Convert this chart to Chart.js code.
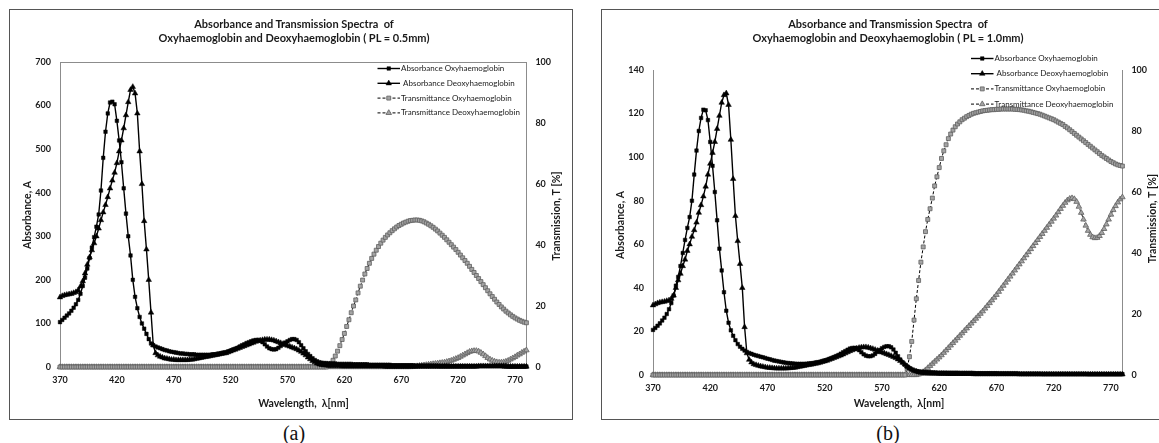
<!DOCTYPE html>
<html>
<head>
<meta charset="utf-8">
<script src="https://cdn.jsdelivr.net/npm/chart.js@4.4.1/dist/chart.umd.min.js"></script>
<style>
    html, body { margin: 0; padding: 0; background: #fff; }
    body { width: 1159px; height: 443px; position: relative; overflow: hidden; font-family: Lato, "Open Sans", sans-serif; }
    .panel { position: absolute; top: 9px; height: 411px; border: 1px solid #555; box-sizing: border-box; }
    #panel-a { left: 9px; width: 564px; }
    #panel-b { left: 601px; width: 600px; }
    .panel canvas { position: absolute; left: 0; top: 0; }
    .chart-title { position: absolute; top: 7px; width: 400px; text-align: center; font-weight: bold; font-size: 11px; line-height: 14.4px; color: #1a1a1a; white-space: pre; }
    .caption { position: absolute; top: 422px; width: 60px; text-align: center; font-family: "Liberation Serif", serif; font-size: 20px; line-height: 22px; color: #111; }
</style>
</head>
<body>
<div class="panel" id="panel-a">
    <canvas id="chart-a" width="562" height="409"></canvas>
    <div class="chart-title" style="left:84px">Absorbance and Transmission Spectra  of
Oxyhaemoglobin and Deoxyhaemoglobin ( PL = 0.5mm)</div>
</div>
<div class="panel" id="panel-b">
    <canvas id="chart-b" width="569" height="409"></canvas>
    <div class="chart-title" style="left:86px">Absorbance and Transmission Spectra  of
Oxyhaemoglobin and Deoxyhaemoglobin ( PL = 1.0mm)</div>
</div>
<div class="caption" style="left:264px">(a)</div>
<div class="caption" style="left:858px">(b)</div>

<script>
// wavelength grid, nm
const wavelength = [
    370,372,374,376,378,380,382,384,386,388,
    390,392,394,396,398,400,402,404,406,408,
    410,412,414,416,418,420,422,424,426,428,
    430,432,434,436,438,440,442,444,446,448,
    450,452,454,456,458,460,462,464,466,468,
    470,472,474,476,478,480,482,484,486,488,
    490,492,494,496,498,500,502,504,506,508,
    510,512,514,516,518,520,522,524,526,528,
    530,532,534,536,538,540,542,544,546,548,
    550,552,554,556,558,560,562,564,566,568,
    570,572,574,576,578,580,582,584,586,588,
    590,592,594,596,598,600,602,604,606,608,
    610,612,614,616,618,620,622,624,626,628,
    630,632,634,636,638,640,642,644,646,648,
    650,652,654,656,658,660,662,664,666,668,
    670,672,674,676,678,680,682,684,686,688,
    690,692,694,696,698,700,702,704,706,708,
    710,712,714,716,718,720,722,724,726,728,
    730,732,734,736,738,740,742,744,746,748,
    750,752,754,756,758,760,762,764,766,768,
    770,772,774,776,778,780
];

const xTicks = [370, 420, 470, 520, 570, 620, 670, 720, 770];
const absTicksA = [0, 100, 200, 300, 400, 500, 600, 700];
const absTicksB = [0, 20, 40, 60, 80, 100, 120, 140];
const transTicks = [0, 20, 40, 60, 80, 100];

// (a) PL = 0.5mm
const absOxyA = [
    103,108,113,118,123,129,136,144,154,168,
    186,205,226,250,274,298,322,350,405,480,
    540,582,607,609,603,565,520,470,410,352,
    300,256,200,161,135,115,100,88,76,64,
    54,50,47,45,43,41,39,38,36,35,
    34,33,32,31,31,30,30,29,29,29,
    28,28,28,28,28,28,28,29,29,30,
    31,32,33,34,36,38,40,42,44,47,
    50,52,55,57,59,61,62,62,60,57,
    52,47,43,41,40,41,44,48,52,56,
    59,62,64,64,62,57,50,43,36,30,
    25,20,16,13,11,10,9,9,8,8,
    8,8,7,7,7,7,7,7,7,6,
    6,6,6,6,6,6,5,5,5,5,
    5,5,5,5,5,5,4,4,4,4,
    4,4,4,4,4,4,3,3,3,3,
    3,3,3,3,3,3,3,2,2,2,
    2,2,2,2,2,2,2,2,2,2,
    2,2,2,2,2,2,2,2,2,2,
    2,2,2,2,2,1,1,1,1,1,
    1,1,1,1,1,1
];
const absDeoxyA = [
    160,163,165,166,167,168,170,172,176,185,
    197,215,235,252,268,284,300,318,337,355,
    372,390,410,428,446,468,495,520,548,578,
    608,636,643,628,582,495,420,335,270,200,
    125,50,32,27,24,22,20,19,18,17,
    17,16,16,16,16,16,16,17,17,18,
    19,20,21,22,23,24,25,26,27,28,
    29,30,31,32,34,36,38,40,42,44,
    46,48,50,52,54,56,58,60,61,62,
    63,63,63,62,61,59,57,55,53,51,
    49,47,45,43,41,38,35,31,27,22,
    18,14,11,8,6,5,4,4,3,3,
    3,3,3,3,2,2,2,2,2,2,
    2,2,2,2,2,2,2,2,2,2,
    2,2,2,1,1,1,1,1,1,1,
    1,1,1,1,1,1,1,1,1,1,
    1,1,1,1,1,1,1,1,1,1,
    1,1,1,1,1,1,1,1,1,1,
    1,1,1,1,2,2,2,2,2,2,
    2,2,2,2,2,2,2,1,1,1,
    1,1,1,1,1,1
];
const transOxyA = [
    0,0,0,0,0,0,0,0,0,0,
    0,0,0,0,0,0,0,0,0,0,
    0,0,0,0,0,0,0,0,0,0,
    0,0,0,0,0,0,0,0,0,0,
    0,0,0,0,0,0,0,0,0,0,
    0,0,0,0,0,0,0,0,0,0,
    0,0,0,0,0,0,0,0,0,0,
    0,0,0,0,0,0,0,0,0,0,
    0,0,0,0,0,0,0,0,0,0,
    0,0,0,0,0,0,0,0,0,0,
    0,0,0,0,0,0,0,0,0,0,
    0,0,0,0,0,0,0,0,0.5,1.2,
    2.2,3.6,5.2,7,9,11,13.3,15.5,17.8,20,
    22,24.3,26.5,28.5,30.5,32.3,34,35.6,37,38.3,
    39.5,40.6,41.6,42.5,43.3,44,44.7,45.3,45.9,46.4,
    46.8,47.2,47.5,47.8,48,48.1,48.2,48.2,48.1,47.9,
    47.6,47.2,46.8,46.3,45.8,45.2,44.6,43.9,43.2,42.5,
    41.7,40.9,40.1,39.3,38.5,37.6,36.7,35.8,34.9,34,
    33,32,31,30,29,28,27,26,25,24,
    23.1,22.2,21.3,20.5,19.7,19,18.3,17.7,17.1,16.6,
    16.1,15.7,15.3,15,14.7,14.5
];
const transDeoxyA = [
    0,0,0,0,0,0,0,0,0,0,
    0,0,0,0,0,0,0,0,0,0,
    0,0,0,0,0,0,0,0,0,0,
    0,0,0,0,0,0,0,0,0,0,
    0,0,0,0,0,0,0,0,0,0,
    0,0,0,0,0,0,0,0,0,0,
    0,0,0,0,0,0,0,0,0,0,
    0,0,0,0,0,0,0,0,0,0,
    0,0,0,0,0,0,0,0,0,0,
    0,0,0,0,0,0,0,0,0,0,
    0,0,0,0,0,0,0,0,0,0,
    0,0,0,0,0,0,0,0,0,0,
    0,0,0,0,0,0,0,0,0,0,
    0,0,0,0,0,0,0,0,0,0,
    0,0,0,0,0,0,0,0,0,0,
    0,0,0,0,0,0.1,0.2,0.3,0.4,0.5,
    0.6,0.7,0.8,0.9,1,1.1,1.2,1.3,1.4,1.5,
    1.7,1.9,2.1,2.4,2.7,3,3.4,3.8,4.2,4.6,
    5,5.2,5.3,5.3,5.1,4.7,4.2,3.6,3,2.5,
    2.1,1.8,1.6,1.5,1.5,1.6,1.8,2.1,2.5,2.9,
    3.3,3.8,4.2,4.7,5.1,5.5
];

// (b) PL = 1.0mm
const absOxyB = [
    20.7,21.6,22.6,23.7,25,26.3,28,30.2,33,36.5,
    41,45,50,56,62,67.5,72.5,80,92,103,
    112,118,121.8,121.5,117,107,96,84,71,58,
    48,38,29.5,24,20.5,18,16,14.2,13,12,
    11.2,10.6,10.1,9.7,9.3,9,8.7,8.4,8.1,7.8,
    7.5,7.2,6.9,6.6,6.4,6.2,6,5.8,5.6,5.5,
    5.4,5.3,5.2,5.1,5.1,5.1,5.1,5.2,5.3,5.4,
    5.5,5.7,5.9,6.1,6.4,6.7,7,7.4,7.8,8.2,
    8.7,9.2,9.8,10.4,11,11.6,12.1,12.4,12.5,12.2,
    11.4,10.4,9.5,8.9,8.6,8.6,9,9.7,10.6,11.5,
    12.3,12.9,13.2,13.2,12.7,11.7,10.2,8.6,7.1,5.8,
    4.7,3.8,3.1,2.5,2.1,1.8,1.6,1.5,1.4,1.3,
    1.2,1.2,1.1,1.1,1,1,1,1,1,1,
    1,1,1,1,0.9,0.9,0.9,0.9,0.9,0.9,
    0.9,0.8,0.8,0.8,0.8,0.8,0.8,0.8,0.8,0.8,
    0.8,0.7,0.7,0.7,0.7,0.7,0.7,0.7,0.7,0.7,
    0.6,0.6,0.6,0.6,0.6,0.6,0.6,0.6,0.6,0.6,
    0.5,0.5,0.5,0.5,0.5,0.5,0.5,0.5,0.5,0.5,
    0.5,0.5,0.5,0.5,0.5,0.5,0.5,0.5,0.5,0.5,
    0.4,0.4,0.4,0.4,0.4,0.4,0.4,0.4,0.4,0.4,
    0.4,0.4,0.4,0.4,0.4,0.4
];
const absDeoxyB = [
    32,32.5,33,33.3,33.5,33.7,34,34.3,35,36.5,
    40,43.5,46.5,50,53,57,60,63.5,66.5,70,
    74.5,78,82,86.5,92,97,102,107,113,119,
    125,128.5,129.3,124,108,90,73,61.5,51,40,
    22,10,7,5.8,5,4.6,4.3,4,3.8,3.6,
    3.4,3.3,3.2,3.1,3,3,3,3,3,3.1,
    3.2,3.3,3.4,3.6,3.8,4,4.2,4.4,4.6,4.8,
    5,5.2,5.4,5.7,6,6.3,6.6,7,7.4,7.8,
    8.2,8.6,9,9.5,10,10.5,11,11.4,11.8,12.2,
    12.5,12.7,12.8,12.8,12.6,12.3,12,11.6,11.2,10.8,
    10.4,10,9.6,9.2,8.8,8.3,7.8,7.2,6.5,5.7,
    4.9,4,3.2,2.5,2,1.6,1.3,1.1,1,0.9,
    0.8,0.8,0.7,0.7,0.7,0.6,0.6,0.6,0.6,0.5,
    0.5,0.5,0.5,0.5,0.5,0.5,0.5,0.5,0.5,0.5,
    0.4,0.4,0.4,0.4,0.4,0.4,0.4,0.4,0.4,0.4,
    0.4,0.4,0.4,0.4,0.4,0.4,0.4,0.4,0.4,0.4,
    0.3,0.3,0.3,0.3,0.3,0.3,0.3,0.3,0.3,0.3,
    0.3,0.3,0.3,0.3,0.3,0.3,0.3,0.3,0.3,0.3,
    0.3,0.3,0.3,0.3,0.3,0.3,0.3,0.3,0.3,0.3,
    0.3,0.3,0.3,0.3,0.3,0.3,0.3,0.3,0.3,0.3,
    0.3,0.3,0.3,0.3,0.3,0.3
];
const transOxyB = [
    0,0,0,0,0,0,0,0,0,0,
    0,0,0,0,0,0,0,0,0,0,
    0,0,0,0,0,0,0,0,0,0,
    0,0,0,0,0,0,0,0,0,0,
    0,0,0,0,0,0,0,0,0,0,
    0,0,0,0,0,0,0,0,0,0,
    0,0,0,0,0,0,0,0,0,0,
    0,0,0,0,0,0,0,0,0,0,
    0,0,0,0,0,0,0,0,0,0,
    0,0,0,0,0,0,0,0,0,0,
    0,0,0,0,0,0,0,0,0,0,
    0,2,6,11,18,25,31,37,42,47,
    51,54.5,58,62,65,68,71,73.5,75.5,77.5,
    79,80.3,81.4,82.3,83,83.7,84.2,84.7,85.1,85.5,
    85.8,86,86.2,86.4,86.6,86.7,86.8,86.9,87,87,
    87.1,87.1,87.2,87.2,87.2,87.2,87.2,87.2,87.1,87.1,
    87,86.9,86.8,86.6,86.5,86.3,86.1,85.9,85.7,85.5,
    85.2,84.9,84.6,84.3,84,83.7,83.3,82.9,82.5,82.1,
    81.5,81,80.4,79.8,79.2,78.6,78,77.4,76.8,76.2,
    75.6,75,74.4,73.8,73.2,72.6,72,71.5,71,70.5,
    70,69.6,69.2,68.9,68.7,68.5
];
const transDeoxyB = [
    0,0,0,0,0,0,0,0,0,0,
    0,0,0,0,0,0,0,0,0,0,
    0,0,0,0,0,0,0,0,0,0,
    0,0,0,0,0,0,0,0,0,0,
    0,0,0,0,0,0,0,0,0,0,
    0,0,0,0,0,0,0,0,0,0,
    0,0,0,0,0,0,0,0,0,0,
    0,0,0,0,0,0,0,0,0,0,
    0,0,0,0,0,0,0,0,0,0,
    0,0,0,0,0,0,0,0,0,0,
    0,0,0,0,0,0,0,0,0,0,
    0,0,0,0,0,0,0.2,0.5,1,1.6,
    2.3,3,3.7,4.4,5.1,5.8,6.5,7.3,8.1,8.9,
    9.7,10.5,11.3,12.1,12.9,13.7,14.5,15.3,16.1,16.9,
    17.7,18.5,19.3,20.1,20.9,21.8,22.7,23.6,24.5,25.4,
    26.3,27.3,28.3,29.3,30.3,31.3,32.3,33.3,34.3,35.3,
    36.3,37.3,38.3,39.3,40.3,41.3,42.3,43.3,44.3,45.3,
    46.3,47.3,48.3,49.3,50.3,51.3,52.3,53.4,54.5,55.5,
    56.5,57.3,57.8,58,57.7,56.8,55.2,53.2,51,49,
    47.3,46,45.2,44.9,45,45.6,46.6,47.9,49.4,51,
    52.6,54.1,55.4,56.6,57.6,58.3
];

const axisGray = '#8c8c8c';
const textColor = '#1a1a1a';
const tickFont = { family: 'Lato', size: 9, weight: 'bold' };

const absStyle = {
    borderColor: '#000', borderWidth: 1.4,
    pointBackgroundColor: '#000', pointBorderColor: '#000', pointBorderWidth: 0.5
};
const transStyle = {
    borderColor: '#000', borderWidth: 1, borderDash: [3, 2],
    pointBackgroundColor: '#a4a4a4', pointBorderColor: '#606060', pointBorderWidth: 0.8
};

function series(label, values, axis, pointStyle, radius, style) {
    return Object.assign({
        label: label,
        yAxisID: axis,
        pointStyle: pointStyle,
        pointRadius: radius,
        data: wavelength.map((w, i) => ({ x: w, y: values[i] })),
        tension: 0,
        fill: false,
        clip: 6
    }, style);
}

function drawMarker(ctx, style, r, x, y, fill, stroke, lw) {
    ctx.beginPath();
    if (style === 'rect') {
        const s = r * Math.SQRT1_2;
        ctx.rect(x - s, y - s, 2 * s, 2 * s);
    } else {
        ctx.moveTo(x, y - r);
        ctx.lineTo(x + r * 0.866, y + r * 0.5);
        ctx.lineTo(x - r * 0.866, y + r * 0.5);
        ctx.closePath();
    }
    ctx.fillStyle = fill;
    ctx.fill();
    ctx.lineWidth = lw;
    ctx.strokeStyle = stroke;
    ctx.stroke();
}

// axis titles, frame and the line+marker legend
const decor = {
    id: 'decor',
    afterDraw(chart, args, o) {
        const ctx = chart.ctx;
        const area = chart.chartArea;
        ctx.save();

        if (o.frame) {
            ctx.strokeStyle = axisGray;
            ctx.lineWidth = 1;
            ctx.beginPath();
            ctx.moveTo(area.left, area.top + 0.5);
            ctx.lineTo(area.right, area.top + 0.5);
            ctx.stroke();
        }

        ctx.fillStyle = textColor;
        ctx.font = 'bold 10.5px Lato';
        ctx.textAlign = 'center';
        ctx.textBaseline = 'middle';
        ctx.fillText('Wavelength,  \u03bb[nm]', o.bottomTitle[0], o.bottomTitle[1]);
        [[o.leftTitle, 'Absorbance, A'], [o.rightTitle, 'Transmission, T [%]']].forEach(([pos, text]) => {
            ctx.save();
            ctx.translate(pos[0], pos[1]);
            ctx.rotate(-Math.PI / 2);
            ctx.fillText(text, 0, 0);
            ctx.restore();
        });

        const lg = o.legend;
        ctx.font = '8px Lato';
        ctx.textAlign = 'left';
        chart.data.datasets.forEach((ds, i) => {
            const y = lg.y + i * lg.gap;
            ctx.strokeStyle = '#000';
            ctx.lineWidth = ds.borderWidth;
            ctx.setLineDash(ds.borderDash || []);
            ctx.beginPath();
            ctx.moveTo(lg.x, y);
            ctx.lineTo(lg.x + lg.len, y);
            ctx.stroke();
            ctx.setLineDash([]);
            drawMarker(ctx, ds.pointStyle, ds.pointRadius, lg.x + lg.len / 2, y,
                ds.pointBackgroundColor, ds.pointBorderColor, ds.pointBorderWidth);
            ctx.fillStyle = textColor;
            ctx.fillText(ds.label, lg.x + lg.len + 1, y);
        });
        ctx.restore();
    }
};

function valueAxis(position, max, ticks, width) {
    return {
        position: position,
        min: 0,
        max: max,
        afterBuildTicks: s => { s.ticks = ticks.map(v => ({ value: v })); },
        afterFit: s => { s.width = width; },
        grid: { display: false, drawTicks: false },
        border: { display: true, color: axisGray, width: 1 },
        ticks: { padding: 9, font: tickFont, color: textColor }
    };
}

function buildChart(canvasId, p) {
    return new Chart(document.getElementById(canvasId), {
        type: 'line',
        data: {
            datasets: [
                series('Absorbance Oxyhaemoglobin', p.absOxy, 'y', 'rect', 2.5, absStyle),
                series(' Absorbance Deoxyhaemoglobin', p.absDeoxy, 'y', 'triangle', 3.2, absStyle),
                series('Transmittance Oxyhaemoglobin', p.transOxy, 'y1', 'rect', 2.8, transStyle),
                series('Transmittance Deoxyhaemoglobin', p.transDeoxy, 'y1', 'triangle', 3.2, transStyle)
            ]
        },
        options: {
            responsive: false,
            animation: false,
            events: [],
            layout: { padding: { top: p.top, left: 0, right: 0, bottom: 0 } },
            plugins: {
                legend: { display: false },
                tooltip: { enabled: false },
                decor: p.decor
            },
            scales: {
                x: {
                    type: 'linear',
                    min: 370,
                    max: 780,
                    afterBuildTicks: s => { s.ticks = xTicks.map(v => ({ value: v })); },
                    afterFit: s => { s.height = p.xHeight; },
                    grid: { display: false, drawTicks: false },
                    border: { display: true, color: axisGray, width: 1 },
                    ticks: { padding: 8, font: tickFont, color: textColor, maxRotation: 0, autoSkip: false }
                },
                y: valueAxis('left', p.absMax, p.absTicks, p.yWidth),
                y1: valueAxis('right', 100, transTicks, p.y1Width)
            }
        },
        plugins: [decor]
    });
}

buildChart('chart-a', {
    absOxy: absOxyA, absDeoxy: absDeoxyA, transOxy: transOxyA, transDeoxy: transDeoxyA,
    absMax: 700, absTicks: absTicksA,
    top: 52, xHeight: 52, yWidth: 50, y1Width: 45.6,
    decor: {
        frame: true,
        leftTitle: [17.6, 205], rightTitle: [547, 206], bottomTitle: [293.5, 393.3],
        legend: { x: 367.5, y: 58.5, gap: 14.8, len: 22.5 }
    }
});

buildChart('chart-b', {
    absOxy: absOxyB, absDeoxy: absDeoxyB, transOxy: transOxyB, transDeoxy: transDeoxyB,
    absMax: 140, absTicks: absTicksB,
    top: 60, xHeight: 44, yWidth: 51, y1Width: 48.6,
    decor: {
        frame: false,
        leftTitle: [18.5, 215], rightTitle: [551, 208.5], bottomTitle: [297, 393.3],
        legend: { x: 369, y: 48.5, gap: 15.2, len: 22.5 }
    }
});
</script>
</body>
</html>
